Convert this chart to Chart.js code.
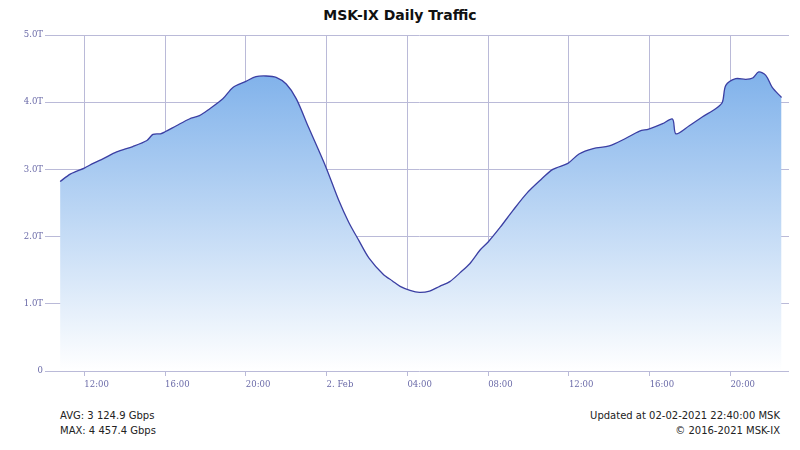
<!DOCTYPE html>
<html>
<head>
<meta charset="utf-8">
<script src="https://cdn.jsdelivr.net/npm/chart.js@4/dist/chart.umd.min.js"></script>
<style>
  body { margin: 0; background: #fff; font-family: "DejaVu Sans", Verdana, sans-serif; }
  #wrap { position: relative; width: 800px; height: 450px; }
  #title { position: absolute; top: 7px; width: 800px; text-align: center; font-weight: bold; font-size: 14px; color: #111; }
  #chartbox { position: absolute; top: 0; left: 0; width: 800px; height: 395px; }
  .foot { position: absolute; font-size: 10px; color: #222; line-height: 15px; }
</style>
</head>
<body>
<div id="wrap">
  <div id="title">MSK-IX Daily Traffic</div>
  <div id="chartbox"><canvas id="traffic"></canvas></div>
  <div class="foot" style="left:60px; top:408px;">AVG: 3 124.9 Gbps<br>MAX: 4 457.4 Gbps</div>
  <div class="foot" style="right:20px; top:408px; text-align:right;">Updated at 02-02-2021 22:40:00 MSK<br>© 2016-2021 MSK-IX</div>
</div>
<script>
// hours counted from 01 Feb 00:00 (MSK)
const hours = [10.8, 11.3, 11.6, 12, 12.44, 12.94, 13.6, 14.4, 15.1, 15.4, 15.77, 16, 16.56, 17.2, 17.7, 18.2, 18.86, 19.36, 20, 20.5, 21, 21.5, 22, 22.5, 23.1, 23.97, 24.6, 25.1, 25.6, 26.1, 26.8, 27.26, 27.64, 28.13, 28.6, 29.1, 29.6, 30.1, 30.6, 31.1, 31.6, 32, 32.6, 33.23, 33.9, 34.55, 35.2, 35.95, 36.5, 37.2, 38.0, 38.8, 39.5, 39.95, 40.64, 41.13, 41.3, 41.96, 42.6, 43.3, 43.6, 43.77, 44.26, 44.76, 45.1, 45.4, 45.75, 46.07, 46.53];
// traffic, Tbps
const traffic = [2.82, 2.93, 2.97, 3.02, 3.09, 3.16, 3.26, 3.34, 3.43, 3.52, 3.53, 3.56, 3.65, 3.75, 3.80, 3.90, 4.05, 4.22, 4.31, 4.38, 4.39, 4.37, 4.27, 4.05, 3.63, 3.03, 2.54, 2.21, 1.94, 1.68, 1.44, 1.34, 1.26, 1.20, 1.17, 1.19, 1.26, 1.33, 1.46, 1.60, 1.80, 1.92, 2.14, 2.39, 2.64, 2.83, 3.00, 3.09, 3.23, 3.31, 3.35, 3.46, 3.57, 3.60, 3.68, 3.75, 3.53, 3.65, 3.78, 3.91, 4.00, 4.25, 4.35, 4.34, 4.36, 4.45, 4.40, 4.22, 4.07];
const xTicks = [12, 16, 20, 24, 28, 32, 36, 40, 44];
const yTickLabels = ['0', '1.0T', '2.0T', '3.0T', '4.0T', '5.0T'];

const points = hours.map((h, i) => ({ x: h, y: traffic[i] }));
const tickFont = { family: '"DejaVu Serif", serif', size: 8.5 };
const tickColor = '#6a6aa8';
const gridColor = '#babad8';

new Chart(document.getElementById('traffic'), {
  type: 'line',
  data: {
    datasets: [{
      data: points,
      borderColor: '#3b3fa3',
      borderWidth: 1.3,
      pointRadius: 0,
      tension: 0.3,
      fill: 'origin',
      backgroundColor: (ctx) => {
        const area = ctx.chart.chartArea;
        if (!area) return '#9cc4f0';
        const g = ctx.chart.ctx.createLinearGradient(0, area.top, 0, area.bottom);
        g.addColorStop(0, '#70a8e8');
        g.addColorStop(1, '#ffffff');
        return g;
      }
    }]
  },
  options: {
    responsive: true,
    maintainAspectRatio: false,
    animation: false,
    layout: { padding: { top: 35, right: 11, left: 0, bottom: 0 } },
    plugins: { legend: { display: false }, tooltip: { enabled: false } },
    scales: {
      x: {
        type: 'linear',
        min: 10.3,
        max: 46.9,
        afterBuildTicks: (axis) => { axis.ticks = xTicks.map(v => ({ value: v })); },
        afterFit: (axis) => { axis.height = 24; },
        grid: { color: gridColor, tickLength: 5 },
        border: { display: false },
        ticks: {
          align: 'start',
          color: tickColor,
          font: tickFont,
          maxRotation: 0,
          padding: 4,
          callback: (v) => {
            if (v === 24) return '2. Feb';
            return String(v % 24).padStart(2, '0') + ':00';
          }
        }
      },
      y: {
        min: 0,
        max: 5,
        afterFit: (axis) => { axis.width = 50; },
        grid: { color: gridColor, tickLength: 5 },
        border: { display: false },
        ticks: {
          stepSize: 1,
          color: tickColor,
          font: tickFont,
          padding: 2,
          callback: (v) => yTickLabels[v]
        }
      }
    }
  }
});
</script>
</body>
</html>
